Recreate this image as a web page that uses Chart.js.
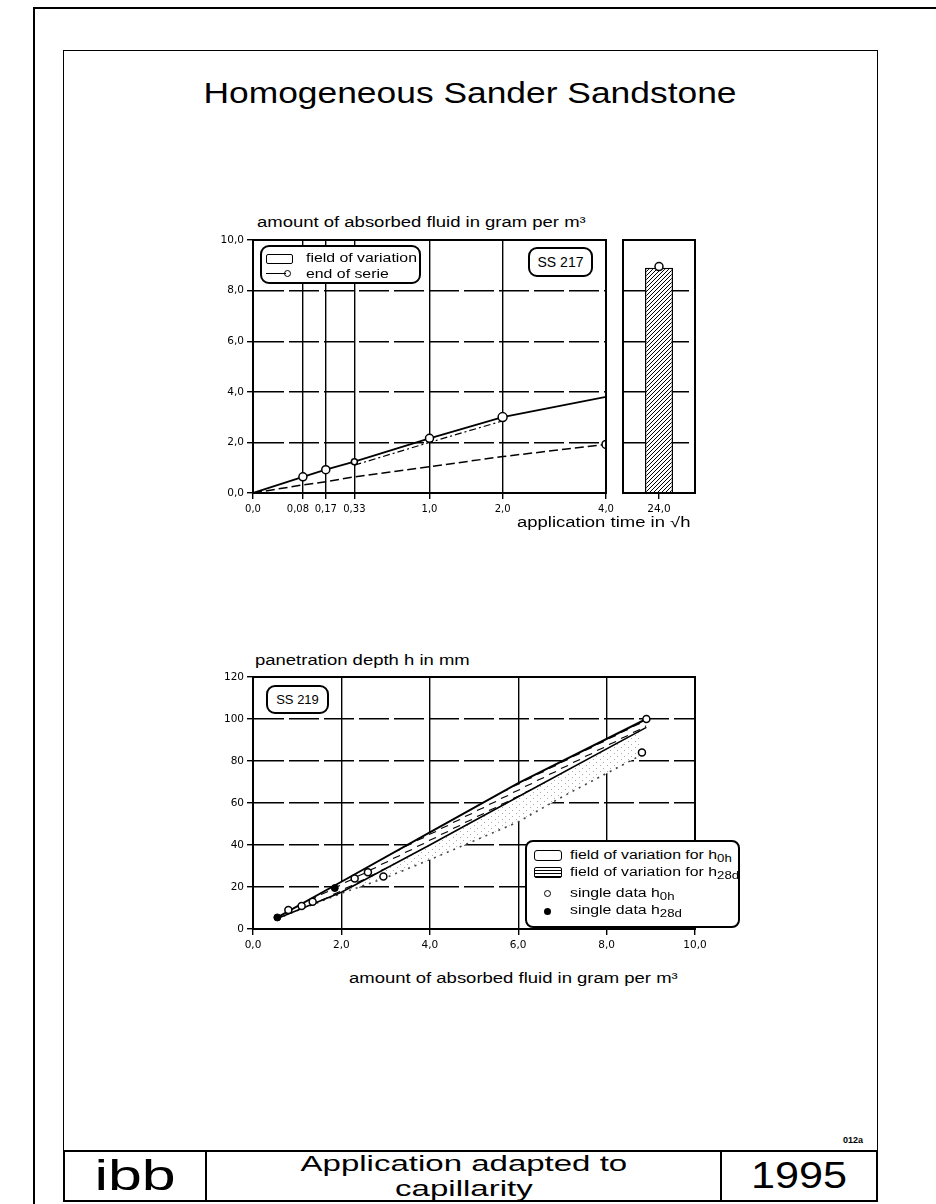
<!DOCTYPE html>
<html>
<head>
<meta charset="utf-8">
<script src="https://cdn.jsdelivr.net/npm/chart.js@4.4.0/dist/chart.umd.min.js"></script>
<style>
  body { margin: 0; width: 936px; height: 1204px; background: #fff; position: relative; overflow: hidden;
         font-family: "Liberation Sans", Arial, sans-serif; color: #000; }
  .abs { position: absolute; }
  .line { position: absolute; background: #000; }
  .txt { position: absolute; white-space: nowrap; line-height: 1; transform-origin: 0 0; }
  .wide { transform: scaleX(1.32); }
  .box { position: absolute; border: 2px solid #000; border-radius: 9px; background: #fff; box-sizing: border-box; }
  canvas { position: absolute; }
  .cell { position: absolute; top: 0; height: 100%; box-sizing: border-box; display: flex; align-items: center; justify-content: center; text-align: center; }
  .cell span { display: inline-block; }
  .sym { position: absolute; box-sizing: border-box; }
</style>
</head>
<body>
<!-- page frame -->
<div class="line" style="left:34px;top:7px;width:902px;height:2px"></div>
<div class="line" style="left:33px;top:7px;width:2px;height:1197px"></div>
<div class="abs" style="left:63px;top:50px;width:815px;height:1102px;border:1.5px solid #000;border-bottom:none;box-sizing:border-box"></div>

<div class="txt" style="left:470px;top:79px;font-size:29px;transform:translateX(-50%) scaleX(1.22);transform-origin:50% 0">Homogeneous Sander Sandstone</div>

<!-- top chart -->
<div class="txt wide" style="left:257px;top:215px;font-size:14px">amount of absorbed fluid in gram per m³</div>
<canvas id="topChart" width="420" height="340" style="left:200px;top:200px"></canvas>
<canvas id="longChart" width="100" height="340" style="left:610px;top:200px"></canvas>
<div class="txt wide" style="left:517px;top:515px;font-size:14px">application time in √h</div>

<div class="box" style="left:260px;top:245px;width:161px;height:39px">
  <div class="sym" style="left:4px;top:7px;width:27px;height:10px;border:1.5px solid #000;border-radius:2px"></div>
  <div class="txt wide" style="left:44px;top:5px;font-size:12px">field of variation</div>
  <div class="sym" style="left:4px;top:26px;width:20px;height:0;border-top:1.5px solid #000"></div>
  <div class="sym" style="left:22px;top:23px;width:7px;height:7px;border:1.5px solid #000;border-radius:50%"></div>
  <div class="txt wide" style="left:44px;top:21px;font-size:12px">end of serie</div>
</div>
<div class="box" style="left:528px;top:247px;width:65px;height:30px;display:flex;align-items:center;justify-content:center;font-size:14px">SS 217</div>

<!-- bottom chart -->
<div class="txt wide" style="left:255px;top:653px;font-size:14px">panetration depth h in mm</div>
<canvas id="bottomChart" width="560" height="320" style="left:200px;top:650px"></canvas>
<div class="txt wide" style="left:349px;top:971px;font-size:14px">amount of absorbed fluid in gram per m³</div>
<div class="box" style="left:266px;top:685px;width:63px;height:29px;display:flex;align-items:center;justify-content:center;font-size:13px">SS 219</div>

<div class="box" style="left:525px;top:840px;width:215px;height:88px;border-radius:8px">
  <div class="sym" style="left:7px;top:8px;width:28px;height:11px;border:1.5px solid #000;border-radius:3px"></div>
  <div class="txt wide" style="left:43px;top:7px;font-size:12px">field of variation for h<sub style="font-size:10px">0h</sub></div>
  <div class="sym" style="left:7px;top:25px;width:28px;height:11px;border:1.5px solid #000;border-radius:2px;background:repeating-linear-gradient(180deg,#fff 0 2px,#000 2px 3px)"></div>
  <div class="txt wide" style="left:43px;top:24px;font-size:12px">field of variation for h<sub style="font-size:10px">28d</sub></div>
  <div class="sym" style="left:17px;top:48px;width:7px;height:7px;border:1.5px solid #000;border-radius:50%"></div>
  <div class="txt wide" style="left:43px;top:45px;font-size:12px">single data h<sub style="font-size:10px">0h</sub></div>
  <div class="sym" style="left:17px;top:66px;width:7px;height:7px;background:#000;border-radius:50%"></div>
  <div class="txt wide" style="left:43px;top:62px;font-size:12px">single data h<sub style="font-size:10px">28d</sub></div>
</div>

<!-- footer -->
<div class="txt" style="left:843px;top:1136px;font-size:9px;font-weight:bold">012a</div>
<div class="abs" style="left:63px;top:1150px;width:815px;height:52px;border:2px solid #000;box-sizing:border-box">
  <div class="cell" style="left:0;width:142px;border-right:2px solid #000;font-size:42px"><span style="transform:scaleX(1.45)">ibb</span></div>
  <div class="cell" style="left:142px;width:515px;border-right:2px solid #000;font-size:22px;line-height:25px"><span style="transform:scaleX(1.5)">Application adapted to<br>capillarity</span></div>
  <div class="cell" style="left:657px;width:154px;font-size:36px"><span style="transform:scaleX(1.2)">1995</span></div>
</div>

<script>
// top chart: absorbed fluid vs application time (hours, drawn on a sqrt scale)
const timeTicks = [0, 0.08, 0.17, 0.33, 1, 2, 4];
const timeLabels = ["0,0", "0,08", "0,17", "0,33", "1,0", "2,0", "4,0"];
const fluidTicks = [0, 2, 4, 6, 8, 10];

const upperTimes = [0, 0.08, 0.17, 0.33, 1, 2, 4];
const upperFluid = [0, 0.64, 0.92, 1.24, 2.16, 3.0, 3.8];
const midTimes = [0.33, 1, 2];
const midFluid = [1.1, 2.0, 2.85];
const lowerTimes = [0, 0.08, 0.17, 0.33, 1, 2, 4];
const lowerFluid = [0, 0.32, 0.44, 0.64, 1.04, 1.44, 1.92];

const longLabels = ["24,0"];
const longFluid = [8.9];
const longEnd = [8.95];

// bottom chart: penetration depth vs absorbed fluid
const amountTicks = [0, 2, 4, 6, 8, 10];
const depthTicks = [0, 20, 40, 60, 80, 100, 120];
const bandAmount = [0.55, 2.0, 4.0, 6.0, 8.9];
const h28Upper = [5.5, 22.5, 46, 69.5, 100];
const h28Lower = [5, 17.5, 40, 63, 96];
const h0LowerAmount = [0.55, 2.0, 2.95, 4.0, 6.0, 7.0, 8.8];
const h0Lower = [5, 17, 24, 33, 51, 63, 83];
const single0hAmount = [0.8, 1.1, 1.35, 2.3, 2.6, 2.95, 8.8, 8.9];
const single0hDepth = [9, 11, 13, 24, 27, 25, 84, 100];
const single28dAmount = [0.55, 1.85];
const single28dDepth = [5.5, 19.5];

const font = { family: "DejaVu Sans", size: 10.5 };
const comma = v => v.toFixed(1).replace(".", ",");
const pts = (xs, ys, fx = x => x) => xs.map((x, i) => ({ x: fx(x), y: ys[i] }));

function pattern(w, h, draw) {
  const c = document.createElement("canvas");
  c.width = w; c.height = h;
  const g = c.getContext("2d");
  g.fillStyle = "#fff"; g.fillRect(0, 0, w, h);
  g.strokeStyle = "#000"; g.fillStyle = "#000";
  draw(g);
  return document.createElement("canvas").getContext("2d").createPattern(c, "repeat");
}
const diagHatch = pattern(4, 4, g => { g.lineWidth = 1; g.beginPath(); g.moveTo(-1, 5); g.lineTo(5, -1); g.stroke(); });
const dashHatch = pattern(12, 6, g => { g.lineWidth = 1.3; g.beginPath(); g.moveTo(1, 4.5); g.lineTo(8, 1.5); g.stroke(); });
const stipple = pattern(7, 6, g => { g.fillStyle = "#aaa"; g.fillRect(1, 1, 1, 1); g.fillRect(4, 4, 1, 1); });

const framePlugin = {
  id: "frame",
  afterDraw(chart) {
    const { ctx, chartArea: a } = chart;
    ctx.save();
    ctx.strokeStyle = "#000"; ctx.lineWidth = 2;
    ctx.strokeRect(a.left, a.top, a.right - a.left, a.bottom - a.top);
    ctx.restore();
  }
};

const openPoint = { pointStyle: "circle", pointBackgroundColor: "#fff", pointBorderColor: "#000", pointBorderWidth: 1.5 };

new Chart(document.getElementById("topChart"), {
  type: "line",
  data: {
    datasets: [
      { data: pts(upperTimes, upperFluid, Math.sqrt), borderColor: "#000", borderWidth: 1.8, pointRadius: [0, 4, 4, 3, 4, 4.5, 0], ...openPoint },
      { data: pts(midTimes, midFluid, Math.sqrt), borderColor: "#000", borderWidth: 1.2, borderDash: [7, 3, 2, 3], pointRadius: 0 },
      { data: pts(lowerTimes, lowerFluid, Math.sqrt), borderColor: "#000", borderWidth: 1.5, borderDash: [9, 4], pointRadius: [0, 0, 0, 0, 0, 0, 4], ...openPoint }
    ]
  },
  options: {
    responsive: false, animation: false,
    layout: { padding: { left: 13, right: 14, top: 40, bottom: 17 } },
    plugins: { legend: { display: false }, tooltip: { enabled: false } },
    scales: {
      x: {
        type: "linear", min: 0, max: 2,
        afterBuildTicks: s => { s.ticks = timeTicks.map(t => ({ value: Math.sqrt(t) })); },
        afterFit: s => { s.height = 30; },
        // the 5-minute label sits left of its line in the original, padded so the two close labels do not collide
        ticks: { callback: (v, i) => i === 1 ? timeLabels[i] + "\u2002\u2002" : timeLabels[i], autoSkip: false, maxRotation: 0, color: "#000", font: { family: "DejaVu Sans", size: 10 }, padding: 4 },
        grid: { color: "#000", lineWidth: 1.4, tickLength: 6 },
        border: { color: "#000", width: 2 }
      },
      y: {
        min: 0, max: 10,
        afterBuildTicks: s => { s.ticks = fluidTicks.map(v => ({ value: v })); },
        afterFit: s => { s.width = 40; },
        ticks: { callback: v => comma(v), color: "#000", font, padding: 3 },
        grid: { color: "#000", lineWidth: 1.4, tickLength: 6 },
        border: { color: "#000", width: 2, dash: [30, 5] }
      }
    }
  },
  plugins: [framePlugin]
});

new Chart(document.getElementById("longChart"), {
  type: "bar",
  data: {
    labels: longLabels,
    datasets: [
      { type: "line", data: longEnd, showLine: false, pointRadius: 4, ...openPoint },
      { data: longFluid, backgroundColor: diagHatch, borderColor: "#000", borderWidth: 1.5, barPercentage: 0.39, categoryPercentage: 1 }
    ]
  },
  options: {
    responsive: false, animation: false,
    layout: { padding: { left: 13, right: 15, top: 40, bottom: 17 } },
    plugins: { legend: { display: false }, tooltip: { enabled: false } },
    scales: {
      x: {
        afterFit: s => { s.height = 30; },
        ticks: { color: "#000", font, padding: 4 },
        grid: { offset: false, drawOnChartArea: false, color: "#000", lineWidth: 1.4, tickLength: 6 },
        border: { color: "#000", width: 2 }
      },
      y: {
        min: 0, max: 10,
        afterBuildTicks: s => { s.ticks = fluidTicks.map(v => ({ value: v })); },
        afterFit: s => { s.width = 0; },
        ticks: { display: false },
        grid: { color: "#000", lineWidth: 1.4, drawTicks: false },
        border: { color: "#000", width: 2, dash: [30, 5] }
      }
    }
  },
  plugins: [framePlugin]
});

new Chart(document.getElementById("bottomChart"), {
  type: "line",
  data: {
    datasets: [
      { data: pts(single28dAmount, single28dDepth), showLine: false, pointRadius: 3.5, pointBackgroundColor: "#000", pointBorderColor: "#000" },
      { data: pts(single0hAmount, single0hDepth), showLine: false, pointRadius: 3.5, ...openPoint },
      { data: pts(bandAmount, h28Upper), borderColor: "#000", borderWidth: 2, pointRadius: 0 },
      { data: pts(bandAmount, h28Lower), borderColor: "#000", borderWidth: 1.6, pointRadius: 0, fill: 2, backgroundColor: dashHatch },
      { data: pts(h0LowerAmount, h0Lower), borderColor: "#444", borderWidth: 1.6, borderDash: [2, 5], pointRadius: 0, fill: 3, backgroundColor: stipple }
    ]
  },
  options: {
    responsive: false, animation: false,
    layout: { padding: { left: 13, right: 65, top: 27, bottom: 11 } },
    plugins: { legend: { display: false }, tooltip: { enabled: false } },
    scales: {
      x: {
        type: "linear", min: 0, max: 10,
        afterBuildTicks: s => { s.ticks = amountTicks.map(v => ({ value: v })); },
        afterFit: s => { s.height = 30; },
        ticks: { callback: v => comma(v), color: "#000", font, padding: 4 },
        grid: { color: "#000", lineWidth: 1.4, tickLength: 6 },
        border: { color: "#000", width: 2 }
      },
      y: {
        min: 0, max: 120,
        afterBuildTicks: s => { s.ticks = depthTicks.map(v => ({ value: v })); },
        afterFit: s => { s.width = 40; },
        ticks: { color: "#000", font, padding: 3 },
        grid: { color: "#000", lineWidth: 1.4, tickLength: 6 },
        border: { color: "#000", width: 2, dash: [30, 5] }
      }
    }
  },
  plugins: [framePlugin]
});
</script>
</body>
</html>
